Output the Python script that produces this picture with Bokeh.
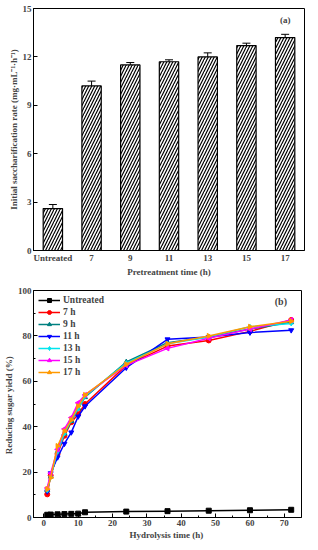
from bokeh.plotting import figure
from bokeh.models import ColumnDataSource, Whisker, Range1d, FactorRange, Label, Legend, LegendItem, FixedTicker
from bokeh.layouts import column
from bokeh.embed import file_html
from bokeh.resources import INLINE

FONT = "Liberation Serif"

# ---- panel (a) data ----
pretreat = ["Untreated", "7", "9", "11", "13", "15", "17"]
rate = [2.6, 10.2, 11.5, 11.7, 12.0, 12.7, 13.2]
rate_err = [0.25, 0.3, 0.15, 0.12, 0.25, 0.15, 0.2]

# ---- panel (b) data ----
hyd_time = [1, 2, 4, 6, 8, 10, 12, 24, 36, 48, 60, 72]
y_untreated = [1.2, 1.3, 1.4, 1.5, 1.6, 1.7, 2.3, 2.6, 2.8, 3.0, 3.2, 3.4]
y_7h = [10.2, 18.5, 28.0, 36.0, 42.0, 45.5, 50.0, 67.0, 75.5, 78.0, 82.0, 87.0]
y_9h = [12.0, 18.0, 29.0, 37.0, 42.5, 48.0, 53.0, 68.5, 77.0, 79.5, 83.0, 86.0]
y_11h = [11.5, 19.5, 26.5, 32.5, 37.5, 44.5, 49.0, 66.0, 78.5, 79.5, 81.5, 82.5]
y_13h = [12.0, 18.0, 29.0, 37.0, 43.0, 48.0, 53.5, 68.0, 76.5, 79.5, 84.0, 85.5]
y_15h = [13.0, 19.5, 30.0, 39.0, 44.0, 50.5, 54.0, 67.0, 74.5, 79.0, 83.0, 87.0]
y_17h = [12.5, 17.5, 31.5, 38.0, 43.0, 49.0, 54.0, 67.5, 76.5, 80.0, 84.0, 86.5]
series_names = ["Untreated", "7 h", "9 h", "11 h", "13 h", "15 h", "17 h"]
series_vals = [y_untreated, y_7h, y_9h, y_11h, y_13h, y_15h, y_17h]
colors = ["#000000", "#ff0000", "#008080", "#0000ff", "#00e5ee", "#ff00ff", "#ff9900"]
markers = ["square", "circle", "triangle", "inverted_triangle", "diamond", "triangle", "triangle"]
angles = [0, 0, 0, 0, 0, 1.5708, -1.5708]


def style_axes(p, fs="9px"):
    for ax in (p.xaxis[0], p.yaxis[0]):
        ax.axis_label_text_font = FONT
        ax.axis_label_text_font_style = "bold"
        ax.axis_label_text_font_size = fs
        ax.major_label_text_font = FONT
        ax.major_label_text_font_style = "bold"
        ax.major_label_text_font_size = fs
        ax.axis_line_color = "black"
        ax.major_tick_line_color = "black"
        ax.major_tick_in = 4
        ax.major_tick_out = 0
        ax.minor_tick_in = 2
        ax.minor_tick_out = 0
        ax.axis_label_standoff = 1
        ax.major_label_standoff = 2
    p.outline_line_color = "black"
    p.outline_line_width = 1
    p.outline_line_alpha = 1
    p.xgrid.visible = False
    p.ygrid.visible = False


# ---- top chart ----
pa = figure(width=308, height=279, x_range=FactorRange(*pretreat),
            y_range=Range1d(0, 15), output_backend="svg", toolbar_location=None,
            min_border_left=0, min_border_right=3, min_border_top=8, min_border_bottom=0)
pa.x_range.range_padding = 0.0
pa.x_range.factor_padding = 0.0
src_a = ColumnDataSource(dict(x=pretreat, top=rate,
                              upper=[r + e for r, e in zip(rate, rate_err)],
                              lower=[r - e for r, e in zip(rate, rate_err)]))
pa.vbar(x="x", top="top", width=0.5, source=src_a, fill_color="white", line_color="black",
        line_width=1.2, hatch_pattern="/", hatch_color="black", hatch_scale=6, hatch_weight=1.2)
wa = Whisker(base="x", upper="upper", lower="lower", source=src_a, line_color="black",
             line_width=1)
wa.upper_head.size = 8
wa.lower_head.size = 8
wa.upper_head.line_color = "black"
wa.lower_head.line_color = "black"
pa.add_layout(wa)
pa.yaxis.ticker = FixedTicker(ticks=[0, 3, 6, 9, 12, 15])
pa.xaxis.axis_label = "Pretreatment time (h)"
pa.yaxis.axis_label = "Initial saccharification rate (mg·mL⁻¹·h⁻¹)"
style_axes(pa)
pa.xaxis.major_tick_line_color = None
pa.yaxis.minor_tick_line_color = None
pa.add_layout(Label(x=6.5, y=14.3, text="(a)", text_align="center", text_baseline="middle",
                    text_font=FONT, text_font_style="bold", text_font_size="9px"))

# ---- bottom chart ----
pb = figure(width=305, height=263, x_range=Range1d(-3, 75), y_range=Range1d(0, 100),
            output_backend="svg", toolbar_location=None,
            min_border_left=0, min_border_right=4, min_border_top=11, min_border_bottom=0)
items = []
for name, vals, c, m, a in zip(series_names, series_vals, colors, markers, angles):
    src = ColumnDataSource(dict(x=hyd_time, y=vals))
    ln = pb.line("x", "y", source=src, line_color=c, line_width=1.5)
    sc = pb.scatter("x", "y", source=src, marker=m, size=5, angle=a,
                    fill_color=c, line_color=c)
    items.append(LegendItem(label=name, renderers=[ln, sc]))
leg = Legend(items=items, location="top_left", border_line_color=None,
             background_fill_alpha=0, label_text_font=FONT, label_text_font_style="bold",
             label_text_font_size="9.5px", glyph_width=22, glyph_height=10,
             label_height=10, spacing=2, padding=3, margin=5, label_standoff=3)
pb.add_layout(leg)
pb.xaxis.ticker = FixedTicker(ticks=[0, 10, 20, 30, 40, 50, 60, 70],
                              minor_ticks=[5, 15, 25, 35, 45, 55, 65])
pb.yaxis.ticker = FixedTicker(ticks=[0, 20, 40, 60, 80, 100],
                              minor_ticks=[10, 30, 50, 70, 90])
pb.xaxis.axis_label = "Hydrolysis time  (h)"
pb.yaxis.axis_label = "Reducing sugar yield  (%)"
style_axes(pb)
pb.add_layout(Label(x=69.0, y=95, text="(b)", text_align="center", text_baseline="middle",
                    text_font=FONT, text_font_style="bold", text_font_size="10px"))

layout = column(pa, pb, spacing=0)
open("out.html", "w").write(file_html(layout, INLINE))
